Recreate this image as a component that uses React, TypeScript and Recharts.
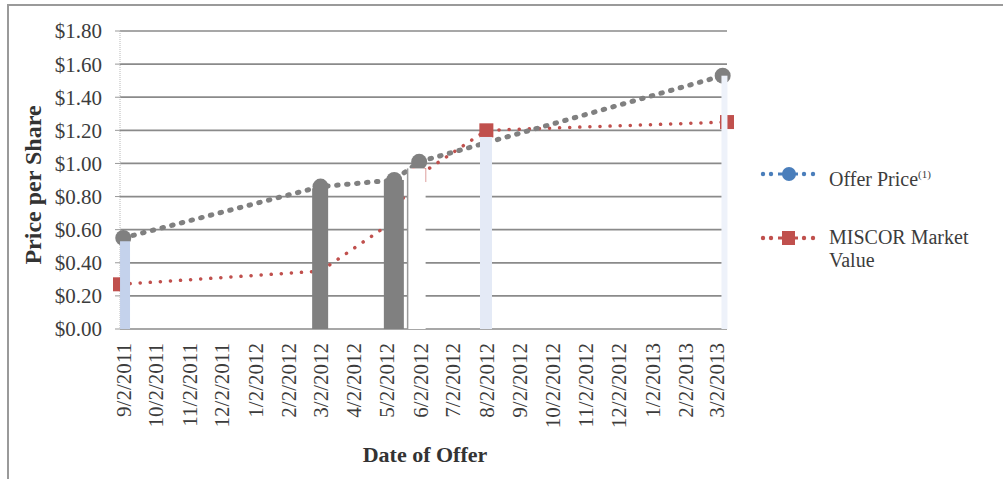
import React from "react";
import {
  ComposedChart,
  Line,
  Bar,
  XAxis,
  YAxis,
  CartesianGrid,
} from "recharts";

const tickLabels = [
  "9/2/2011",
  "10/2/2011",
  "11/2/2011",
  "12/2/2011",
  "1/2/2012",
  "2/2/2012",
  "3/2/2012",
  "4/2/2012",
  "5/2/2012",
  "6/2/2012",
  "7/2/2012",
  "8/2/2012",
  "9/2/2012",
  "10/2/2012",
  "11/2/2012",
  "12/2/2012",
  "1/2/2013",
  "2/2/2013",
  "3/2/2013",
];

const priceTicks = [0, 0.2, 0.4, 0.6, 0.8, 1.0, 1.2, 1.4, 1.6, 1.8];

const offerDates = ["9/2/2011", "3/2/2012", "5/9/2012", "6/1/2012", "3/8/2013"];
const offerPrices = [0.55, 0.86, 0.9, 1.01, 1.53];

const marketDates = ["8/30/2011", "3/2/2012", "4/27/2012", "6/1/2012", "8/2/2012", "3/12/2013"];
const marketValues = [0.27, 0.35, 0.6, 0.93, 1.2, 1.25];

// the vertical blocks under some offer dates
const dropDates = ["9/4/2011", "3/2/2012", "5/9/2012", "5/30/2012", "8/2/2012", "3/10/2013"];
const dropValues = [0.53, 0.85, 0.9, 0.97, 1.16, 1.53];

const domainStart = "8/30/2011";
const domainEnd = "3/12/2013";

// styling per block / marker
const DROP_WIDTHS = [10, 16, 20, 18, 12, 6];
const DROP_FILLS = ["#c4d2ec", "#808080", "#808080", "#ffffff", "#e4eaf6", "#eef2fa"];
const DROP_EDGE = [false, false, false, true, false, false];
const MARKET_MARKER = [true, true, false, true, true, true];

const SERIF = '"Liberation Serif", "Times New Roman", serif';
const GRAY = "#808080";
const RED = "#c0504d";
const BLUE = "#4a7ebb";

const CHART_W = 1003;
const CHART_H = 479;

function toTime(s: string) {
  const [m, d, y] = s.split("/").map(Number);
  return Date.UTC(y, m - 1, d);
}

const offerRows = offerDates.map((d, i) => ({ date: toTime(d), price: offerPrices[i] }));
const marketRows = marketDates.map((d, i) => ({ date: toTime(d), value: marketValues[i] }));
const dropRows = dropDates.map((d, i) => ({ date: toTime(d), drop: dropValues[i] }));
const labelByTime: Record<number, string> = {};
tickLabels.forEach((t) => {
  labelByTime[toTime(t)] = t;
});
const xDomain = [toTime(domainStart), toTime(domainEnd)];

function DateTick(props: any) {
  const { x, payload } = props;
  return (
    <text
      transform={`translate(${x},343) rotate(-90)`}
      textAnchor="end"
      dy="0.35em"
      fontFamily={SERIF}
      fontSize={21}
      fill="#3c3c3c"
    >
      {labelByTime[payload.value]}
    </text>
  );
}

function DropShape(props: any) {
  const { x, y, width, height, index } = props;
  if (height == null || height <= 0) return null;
  const cx = x + width / 2;
  const w = DROP_WIDTHS[index];
  return (
    <g>
      <rect x={cx - w / 2} y={y} width={w} height={height} fill={DROP_FILLS[index]} />
      {DROP_EDGE[index] && (
        <line x1={cx - w / 2} y1={y} x2={cx - w / 2} y2={y + height} stroke="#9a9a9a" strokeWidth={1.5} />
      )}
    </g>
  );
}

function OfferDot(props: any) {
  const { cx, cy, index } = props;
  if (cx == null || cy == null) return null;
  return <circle key={`o-${index}`} cx={cx} cy={cy} r={8} fill={GRAY} />;
}

function MarketDot(props: any) {
  const { cx, cy, index } = props;
  if (cx == null || cy == null || !MARKET_MARKER[index]) return null;
  return <rect key={`m-${index}`} x={cx - 7} y={cy - 7} width={14} height={14} fill={RED} />;
}

function LegendIcon({ color, square }: { color: string; square?: boolean }) {
  return (
    <svg width={62} height={20} style={{ display: "block" }}>
      {[5, 13, 46, 55].map((dx) => (
        <circle key={dx} cx={dx} cy={10} r={2.2} fill={color} />
      ))}
      <line x1={20} y1={10} x2={40} y2={10} stroke={color} strokeWidth={3} />
      {square ? (
        <rect x={24} y={3} width={13} height={14} fill={color} />
      ) : (
        <circle cx={31} cy={10} r={7} fill={color} />
      )}
    </svg>
  );
}

export default function App() {
  return (
    <div
      style={{
        position: "absolute",
        left: 0,
        top: 0,
        width: CHART_W,
        height: CHART_H,
        background: "#fff",
        overflow: "hidden",
        fontFamily: SERIF,
      }}
    >
      <div
        style={{
          position: "absolute",
          left: 7,
          top: 4,
          width: 1010,
          height: 500,
          borderLeft: "2px solid #9a9a9a",
          borderTop: "2px solid #9a9a9a",
        }}
      />
      {/* grid, axes and the two dotted series */}
      <div style={{ position: "absolute", left: 0, top: 0 }}>
        <ComposedChart
          width={CHART_W}
          height={CHART_H}
          margin={{ top: 31, right: 276, bottom: 0, left: 8 }}
        >
          <CartesianGrid vertical={false} stroke="#8a8a8a" strokeWidth={1.7} />
          <XAxis
            dataKey="date"
            type="number"
            domain={xDomain}
            ticks={tickLabels.map(toTime)}
            tick={<DateTick />}
            axisLine={false}
            tickLine={false}
            height={150}
            interval={0}
            allowDuplicatedCategory={false}
          />
          <YAxis
            domain={[0, 1.8]}
            ticks={priceTicks}
            width={112}
            interval={0}
            tickFormatter={(v: number) => `$${v.toFixed(2)}`}
            tick={{ fontFamily: SERIF, fontSize: 21, fill: "#3c3c3c" }}
            axisLine={{ stroke: "#b8b8b8", strokeDasharray: "1 1" }}
            tickLine={{ stroke: "#999" }}
            tickSize={5}
            tickMargin={13}
          />
          <Line
            data={marketRows}
            dataKey="value"
            stroke={RED}
            strokeWidth={3.5}
            strokeDasharray="0.1 10"
            strokeLinecap="round"
            dot={<MarketDot />}
            activeDot={false}
            isAnimationActive={false}
          />
          <Line
            data={offerRows}
            dataKey="price"
            stroke={GRAY}
            strokeWidth={5}
            strokeDasharray="1.5 8.5"
            strokeLinecap="round"
            dot={<OfferDot />}
            activeDot={false}
            isAnimationActive={false}
          />
        </ComposedChart>
      </div>
      {/* blocks drawn over the lines, same plot area */}
      <div style={{ position: "absolute", left: 0, top: 0 }}>
        <ComposedChart
          width={CHART_W}
          height={CHART_H}
          data={dropRows}
          margin={{ top: 31, right: 276, bottom: 150, left: 120 }}
        >
          <XAxis dataKey="date" type="number" domain={xDomain} hide />
          <YAxis domain={[0, 1.8]} hide />
          <Bar dataKey="drop" barSize={10} shape={<DropShape />} isAnimationActive={false} />
        </ComposedChart>
      </div>
      <div
        style={{
          position: "absolute",
          left: 33,
          top: 185,
          transform: "translate(-50%, -50%) rotate(-90deg)",
          whiteSpace: "nowrap",
          fontWeight: "bold",
          fontSize: 24,
          color: "#333",
        }}
      >
        Price per Share
      </div>
      <div
        style={{
          position: "absolute",
          left: 425,
          top: 455,
          transform: "translate(-50%, -50%)",
          whiteSpace: "nowrap",
          fontWeight: "bold",
          fontSize: 22,
          color: "#333",
        }}
      >
        Date of Offer
      </div>
      <div style={{ position: "absolute", left: 758, top: 164 }}>
        <LegendIcon color={BLUE} />
      </div>
      <div
        style={{
          position: "absolute",
          left: 829,
          top: 162,
          fontSize: 20,
          lineHeight: "24px",
          color: "#3c3c3c",
          whiteSpace: "nowrap",
        }}
      >
        Offer Price<sup style={{ fontSize: 11, verticalAlign: "8px" }}>(1)</sup>
      </div>
      <div style={{ position: "absolute", left: 758, top: 228 }}>
        <LegendIcon color={RED} square />
      </div>
      <div
        style={{
          position: "absolute",
          left: 829,
          top: 226,
          fontSize: 20,
          lineHeight: "23px",
          color: "#3c3c3c",
          width: 160,
        }}
      >
        MISCOR Market
        <br />
        Value
      </div>
    </div>
  );
}
